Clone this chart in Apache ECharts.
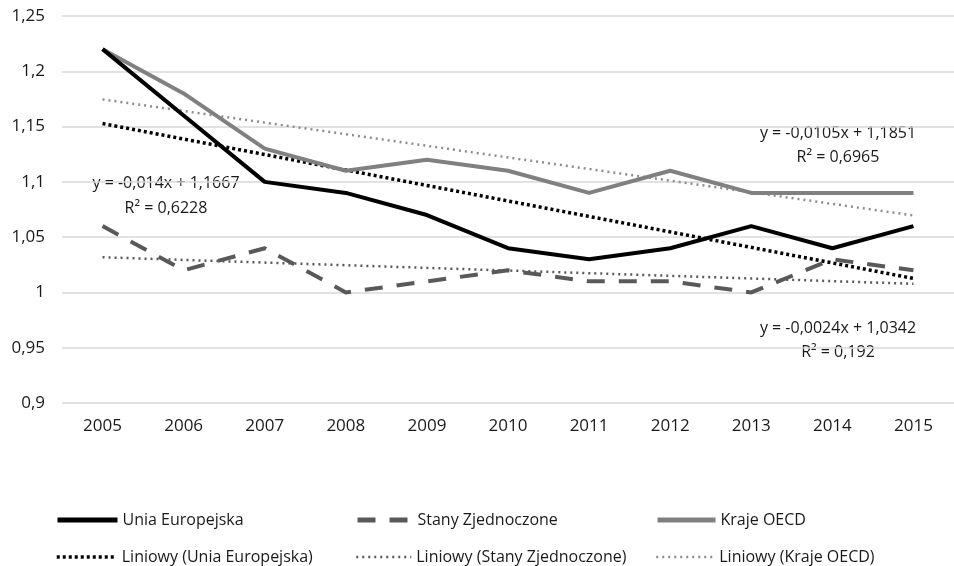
<!DOCTYPE html>
<html>
<head>
<meta charset="utf-8">
<script src="https://cdn.jsdelivr.net/npm/echarts@6/dist/echarts.min.js"></script>
<style>
  html, body { margin: 0; padding: 0; background: #fff; }
  #chart { width: 954px; height: 566px; }
</style>
</head>
<body>
<div id="chart"></div>
<script>
// dane
var years = ['2005', '2006', '2007', '2008', '2009', '2010', '2011', '2012', '2013', '2014', '2015'];
var ue = [1.22, 1.16, 1.10, 1.09, 1.07, 1.04, 1.03, 1.04, 1.06, 1.04, 1.06];
var usa = [1.06, 1.02, 1.04, 1.00, 1.01, 1.02, 1.01, 1.01, 1.00, 1.03, 1.02];
var oecd = [1.22, 1.18, 1.13, 1.11, 1.12, 1.11, 1.09, 1.11, 1.09, 1.09, 1.09];
// linie trendu (poczatek i koniec)
var trendUe = [[ '2005', 1.1527 ], [ '2015', 1.0127 ]];
var trendUsa = [[ '2005', 1.0318 ], [ '2015', 1.0078 ]];
var trendOecd = [[ '2005', 1.1746 ], [ '2015', 1.0696 ]];
var names = ['Unia Europejska', 'Stany Zjednoczone', 'Kraje OECD',
  'Liniowy (Unia Europejska)', 'Liniowy (Stany Zjednoczone)', 'Liniowy (Kraje OECD)'];

var font = '"Open Sans", "Noto Sans", sans-serif';
var txt = '#1a1a1a';

var chart = echarts.init(document.getElementById('chart'));

function leg(name, left, top, w, lw) {
  return {
    data: [name], left: left, top: top, itemWidth: w, itemHeight: 12, itemGap: 5, padding: 0,
    itemStyle: { opacity: 0 }, lineStyle: { width: lw },
    textStyle: { color: txt, fontSize: 16, fontFamily: font }, selectedMode: false
  };
}

function eq(x, y, s) {
  return {
    type: 'text', x: x, y: y,
    style: { text: s, fill: txt, font: '16px ' + font, align: 'center', verticalAlign: 'middle' }
  };
}

chart.setOption({
  animation: false,
  textStyle: { fontFamily: font },
  grid: { left: 62, top: 16, width: 897, height: 387 },
  xAxis: {
    type: 'category', data: years, boundaryGap: true,
    axisLine: { show: false }, axisTick: { show: false },
    axisLabel: { color: txt, fontSize: 17, margin: 15, fontFamily: font }
  },
  yAxis: {
    type: 'value', min: 0.9, max: 1.25, interval: 0.05,
    axisLabel: {
      color: txt, fontSize: 17, margin: 17, fontFamily: font,
      formatter: function(v) { return String(+v.toFixed(2)).replace('.', ','); }
    },
    splitLine: { lineStyle: { color: '#d9d9d9', width: 1.5 } }
  },
  legend: [
    leg(names[0], 55, 512, 60, 5), leg(names[1], 355, 512, 55, 5), leg(names[2], 655, 512, 58, 5),
    leg(names[3], 55, 549, 60, 3.5), leg(names[4], 355, 549, 55, 2.5), leg(names[5], 655, 549, 58, 2.5)
  ],
  graphic: [
    eq(166, 183, 'y = -0,014x + 1,1667'), eq(166, 208, 'R² = 0,6228'),
    eq(838, 133, 'y = -0,0105x + 1,1851'), eq(838, 157, 'R² = 0,6965'),
    eq(838, 328, 'y = -0,0024x + 1,0342'), eq(838, 352, 'R² = 0,192')
  ],
  series: [
    { name: names[5], type: 'line', data: trendOecd, symbol: 'none', z: 1,
      lineStyle: { color: '#8c8c8c', width: 2.5, type: [2, 4] }, itemStyle: { color: '#8c8c8c' } },
    { name: names[4], type: 'line', data: trendUsa, symbol: 'none', z: 1,
      lineStyle: { color: '#595959', width: 2.5, type: [2, 4] }, itemStyle: { color: '#595959' } },
    { name: names[3], type: 'line', data: trendUe, symbol: 'none', z: 1,
      lineStyle: { color: '#000', width: 3.5, type: [3, 3] }, itemStyle: { color: '#000' } },
    { name: names[2], type: 'line', data: oecd, symbol: 'none', z: 2,
      lineStyle: { color: '#808080', width: 4 }, itemStyle: { color: '#808080' } },
    { name: names[1], type: 'line', data: usa, symbol: 'none', z: 2,
      lineStyle: { color: '#595959', width: 4, type: [18, 14] }, itemStyle: { color: '#595959' } },
    { name: names[0], type: 'line', data: ue, symbol: 'none', z: 3,
      lineStyle: { color: '#000', width: 4 }, itemStyle: { color: '#000' } }
  ]
});
</script>
</body>
</html>
